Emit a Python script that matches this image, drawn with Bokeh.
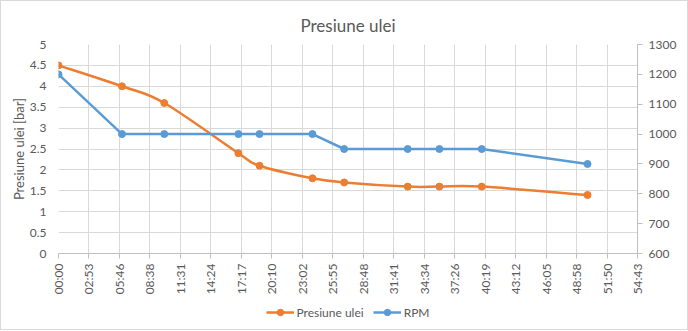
import math
from bokeh.plotting import figure
from bokeh.layouts import column
from bokeh.models import (Range1d, LinearAxis, FixedTicker, Legend, LegendItem,
                          ColumnDataSource)
from bokeh.embed import file_html
from bokeh.resources import INLINE

# ---- data ----
times = ["00:00", "06:00", "10:00", "17:00", "19:00", "24:00", "27:00",
         "33:00", "36:00", "40:00", "50:00"]
pressure = [4.5, 4.0, 3.6, 2.4, 2.1, 1.8, 1.7, 1.6, 1.6, 1.6, 1.4]
rpm = [1200, 1000, 1000, 1000, 1000, 1000, 950, 950, 950, 950, 900]
x_tick_labels = ["00:00", "02:53", "05:46", "08:38", "11:31", "14:24", "17:17",
                 "20:10", "23:02", "25:55", "28:48", "31:41", "34:34", "37:26",
                 "40:19", "43:12", "46:05", "48:58", "51:50", "54:43"]
x_tick_step_s = 172.8
left_ticks = [0, 0.5, 1, 1.5, 2, 2.5, 3, 3.5, 4, 4.5, 5]
right_ticks = [600, 700, 800, 900, 1000, 1100, 1200, 1300]

ORANGE = "#ED7D31"
BLUE = "#5B9BD5"
TXT = "#595959"
GRID = "#D9D9D9"
FONT = "Lato"


def to_sec(s):
    m, sec = s.split(":")
    return int(m) * 60 + int(sec)


xs = [to_sec(t) for t in times]
x_ticks = [i * x_tick_step_s for i in range(len(x_tick_labels))]

p = figure(width=686, height=297, output_backend="svg", toolbar_location=None,
           x_range=Range1d(0, x_ticks[-1]), y_range=Range1d(0, 5),
           min_border_left=57, min_border_right=50, min_border_top=43,
           min_border_bottom=45)
p.outline_line_color = None
p.background_fill_color = "white"
p.border_fill_color = "white"

p.title.text = "Presiune ulei"
p.title.align = "center"
p.title.text_font = FONT
p.title.text_font_size = "17px"
p.title.text_font_style = "normal"
p.title.text_color = TXT
p.title.offset = 0
p.title.standoff = 17

# x axis
xa = p.xaxis[0]
xa.ticker = FixedTicker(ticks=x_ticks)
xa.major_label_overrides = {t: l for t, l in zip(x_ticks, x_tick_labels)}
xa.major_label_orientation = math.pi / 2
xa.major_label_text_font = FONT
xa.major_label_text_font_size = "12px"
xa.major_label_text_color = TXT
xa.axis_line_color = "#BFBFBF"
xa.major_tick_line_color = "#BFBFBF"
xa.major_tick_out = 5
xa.major_tick_in = 0
xa.minor_tick_line_color = None

# left axis
ya = p.yaxis[0]
ya.ticker = FixedTicker(ticks=left_ticks)
ya.axis_label = "Presiune ulei [bar]"
ya.axis_label_text_font = FONT
ya.axis_label_text_font_size = "13px"
ya.axis_label_text_font_style = "normal"
ya.axis_label_text_color = TXT
ya.axis_label_standoff = 0
ya.major_label_text_font = FONT
ya.major_label_text_font_size = "12px"
ya.major_label_text_color = TXT
ya.axis_line_color = None
ya.major_tick_line_color = None
ya.minor_tick_line_color = None
ya.major_label_standoff = 6

# right axis
p.extra_y_ranges = {"rpm": Range1d(600, 1300)}
ra = LinearAxis(y_range_name="rpm", ticker=FixedTicker(ticks=right_ticks))
ra.major_label_text_font = FONT
ra.major_label_text_font_size = "12px"
ra.major_label_text_color = TXT
ra.axis_line_color = "#BFBFBF"
ra.major_tick_line_color = "#BFBFBF"
ra.major_tick_out = 5
ra.major_tick_in = 0
ra.minor_tick_line_color = None
ra.major_label_standoff = 6
p.add_layout(ra, "right")

p.xgrid.ticker = FixedTicker(ticks=x_ticks)
p.ygrid.ticker = FixedTicker(ticks=left_ticks)
p.xgrid.grid_line_color = GRID
p.ygrid.grid_line_color = GRID

# smoothed pressure line (Catmull-Rom -> cubic Bezier, computed from data)
n = len(xs)
seg = dict(x0=[], y0=[], x1=[], y1=[], cx0=[], cy0=[], cx1=[], cy1=[])
for i in range(n - 1):
    xm1, ym1 = (xs[i - 1], pressure[i - 1]) if i > 0 else (xs[i], pressure[i])
    xp2, yp2 = (xs[i + 2], pressure[i + 2]) if i + 2 < n else (xs[i + 1], pressure[i + 1])
    seg["x0"].append(xs[i]); seg["y0"].append(pressure[i])
    seg["x1"].append(xs[i + 1]); seg["y1"].append(pressure[i + 1])
    seg["cx0"].append(xs[i] + (xs[i + 1] - xm1) / 6)
    seg["cy0"].append(pressure[i] + (pressure[i + 1] - ym1) / 6)
    seg["cx1"].append(xs[i + 1] - (xp2 - xs[i]) / 6)
    seg["cy1"].append(pressure[i + 1] - (yp2 - pressure[i]) / 6)
p.bezier(x0="x0", y0="y0", x1="x1", y1="y1", cx0="cx0", cy0="cy0",
         cx1="cx1", cy1="cy1", source=ColumnDataSource(seg),
         line_color=ORANGE, line_width=2.5)
p.scatter(xs, pressure, size=7, color=ORANGE)
p.line(xs, rpm, y_range_name="rpm", line_color=BLUE, line_width=2.5)
p.scatter(xs, rpm, y_range_name="rpm", size=7, color=BLUE)

# legend strip (series drawn outside its visible range, only the legend shows)
lg = figure(width=686, height=31, output_backend="svg", toolbar_location=None,
            x_range=Range1d(-2, -1), y_range=Range1d(-2, -1),
            min_border_left=0, min_border_right=0, min_border_top=0,
            min_border_bottom=0)
lg.axis.visible = False
lg.grid.visible = False
lg.outline_line_color = None
lo_l = lg.line(xs, pressure, line_color=ORANGE, line_width=2.5)
lo_p = lg.scatter(xs, pressure, size=7, color=ORANGE)
lb_l = lg.line(xs, rpm, line_color=BLUE, line_width=2.5)
lb_p = lg.scatter(xs, rpm, size=7, color=BLUE)
legend = Legend(items=[LegendItem(label="Presiune ulei", renderers=[lo_l, lo_p]),
                       LegendItem(label="RPM", renderers=[lb_l, lb_p])],
                orientation="horizontal", location="top_center",
                label_text_font=FONT, label_text_font_size="12px",
                label_text_color=TXT, glyph_width=28, glyph_height=16,
                label_standoff=3, spacing=9, padding=0, margin=6,
                border_line_color=None, background_fill_alpha=0)
lg.add_layout(legend, "center")

layout = column(p, lg, spacing=0,
                styles={"border": "1px solid #D9D9D9"})
open("out.html", "w").write(file_html(layout, INLINE))
